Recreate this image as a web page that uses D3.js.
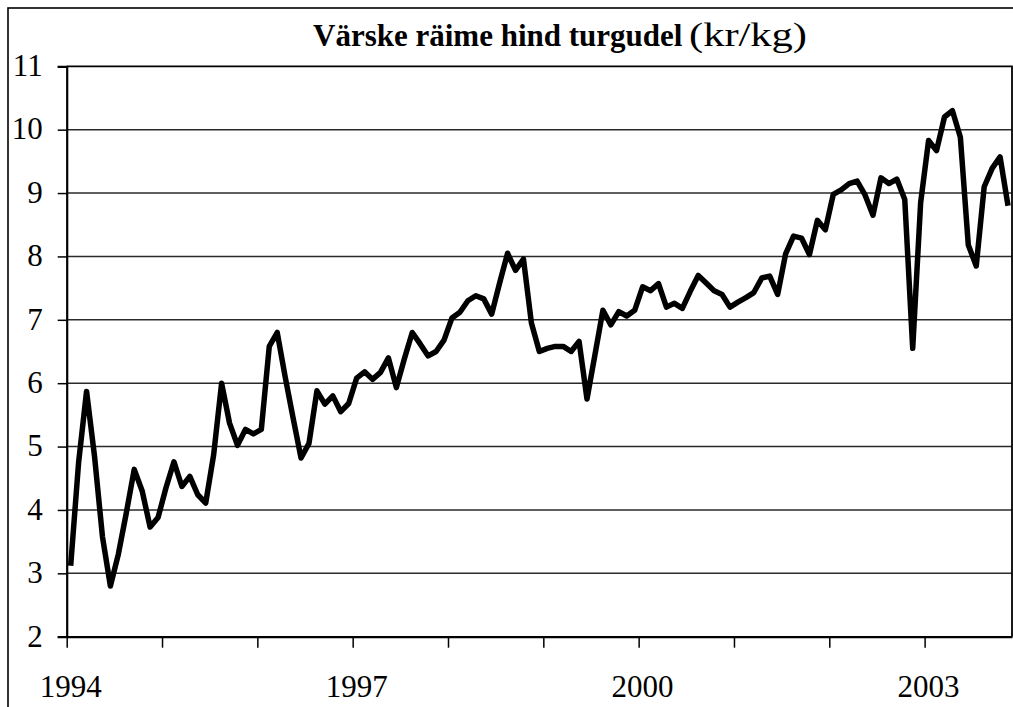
<!DOCTYPE html>
<html>
<head>
<meta charset="utf-8">
<script src="https://cdn.jsdelivr.net/npm/d3@7"></script>
<style>
  html, body { margin: 0; padding: 0; background: #fff; }
  svg { display: block; font-family: "Liberation Serif", "Times New Roman", serif; }
</style>
</head>
<body>
<div id="chart"></div>
<script>
// monthly price, Jan 1994 .. Nov 2003 (kr/kg)
const startYear = 1994;
const prices = [
  3.12, 4.75, 5.87, 4.85, 3.58, 2.80, 3.30, 3.95, 4.64, 4.30, 3.73, 3.88,
  4.35, 4.76, 4.37, 4.53, 4.24, 4.11, 4.87, 6.00, 5.37, 5.02, 5.27, 5.20,
  5.27, 6.58, 6.80, 6.10, 5.45, 4.82, 5.05, 5.88, 5.67, 5.80, 5.55, 5.68,
  6.08, 6.18, 6.06, 6.17, 6.40, 5.93, 6.38, 6.80, 6.62, 6.43, 6.50, 6.68,
  7.03, 7.12, 7.30, 7.38, 7.33, 7.09, 7.58, 8.05, 7.78, 7.96, 6.95, 6.50,
  6.55, 6.58, 6.58, 6.50, 6.66, 5.75, 6.45, 7.15, 6.92, 7.13, 7.06, 7.15,
  7.52, 7.46, 7.57, 7.20, 7.26, 7.18, 7.45, 7.70, 7.58, 7.46, 7.40, 7.20,
  7.28, 7.35, 7.43, 7.66, 7.69, 7.40, 8.04, 8.32, 8.29, 8.03, 8.57, 8.42,
  8.98, 9.05, 9.15, 9.19, 8.97, 8.65, 9.24, 9.15, 9.22, 8.90, 6.55, 8.85,
  9.83, 9.67, 10.20, 10.30, 9.88, 8.18, 7.85, 9.10, 9.39, 9.57, 8.80
];
const yTicks = [2, 3, 4, 5, 6, 7, 8, 9, 10, 11];
const yearLabels = ["1994", "1997", "2000", "2003"];
const titleMain = "Värske räime hind turgudel";
const titleUnit = "(kr/kg)";

const width = 1013;
const height = 707;
const plot = { left: 66.7, top: 66.3, right: 1012, bottom: 636.7 };

const svg = d3.select("#chart")
  .append("svg")
  .attr("width", width)
  .attr("height", height);

svg.append("rect")
  .attr("width", width).attr("height", height)
  .attr("fill", "#fff");

// outer chart border (right/bottom fall outside the picture)
svg.append("rect")
  .attr("x", 8).attr("y", 8)
  .attr("width", 1030).attr("height", 730)
  .attr("fill", "none")
  .attr("stroke", "#000")
  .attr("stroke-width", 1.6);

// month categories
const months = prices.map((d, i) => i);
const x = d3.scaleBand()
  .domain(months)
  .range([plot.left, plot.right])
  .padding(0);

// category boundaries, used for tick marks
const xEdge = d3.scaleLinear()
  .domain([0, months.length])
  .range([plot.left, plot.right]);

const y = d3.scaleLinear()
  .domain([2, 11])
  .range([plot.bottom, plot.top]);

// gridlines
svg.append("g")
  .selectAll("line")
  .data(yTicks.filter(d => d > 2 && d < 11))
  .join("line")
  .attr("x1", plot.left).attr("x2", plot.right)
  .attr("y1", d => y(d)).attr("y2", d => y(d))
  .attr("stroke", "#2a2a2a")
  .attr("stroke-width", 1.5);

// plot area top/right border
svg.append("path")
  .attr("d", `M${plot.left},${plot.top}H${plot.right}V${plot.bottom}`)
  .attr("fill", "none")
  .attr("stroke", "#000")
  .attr("stroke-width", 1.8);

// y axis
const yAxis = svg.append("g")
  .attr("transform", `translate(${plot.left},0)`)
  .call(d3.axisLeft(y).tickValues(yTicks).tickSize(9).tickPadding(15).tickFormat(d3.format("d")));
yAxis.select(".domain").attr("stroke", "#000").attr("stroke-width", 2.2);
yAxis.selectAll(".tick line").attr("stroke", "#000").attr("stroke-width", 1.5);
yAxis.selectAll(".tick text")
  .attr("font-family", "Liberation Serif, serif")
  .attr("font-size", 31)
  .attr("fill", "#000")
  .attr("dy", "0.3em");

// x axis tick marks at every 12th category boundary
const xAxis = svg.append("g")
  .attr("transform", `translate(0,${plot.bottom})`)
  .call(d3.axisBottom(xEdge)
    .tickValues(d3.range(0, months.length, 12))
    .tickSize(11)
    .tickSizeOuter(0)
    .tickFormat(""));
xAxis.select(".domain").attr("stroke", "#000").attr("stroke-width", 2.2);
xAxis.selectAll(".tick line").attr("stroke", "#000").attr("stroke-width", 1.5);

// year labels centred on their January category
const labelAxis = svg.append("g")
  .attr("transform", `translate(0,${plot.bottom})`)
  .call(d3.axisBottom(x)
    .tickValues(yearLabels.map(l => (+l - startYear) * 12))
    .tickSize(0)
    .tickPadding(38)
    .tickFormat(i => yearLabels.find(l => (+l - startYear) * 12 === i)));
labelAxis.select(".domain").remove();
labelAxis.selectAll(".tick text")
  .attr("font-family", "Liberation Serif, serif")
  .attr("font-size", 31)
  .attr("fill", "#000");

// price line
const line = d3.line()
  .x((d, i) => x(i) + x.bandwidth() / 2)
  .y(d => y(d));

svg.append("path")
  .datum(prices)
  .attr("d", line)
  .attr("fill", "none")
  .attr("stroke", "#000")
  .attr("stroke-width", 5.5)
  .attr("stroke-linejoin", "round");

// title: bold part plus unit in regular weight
svg.append("text")
  .attr("x", 313)
  .attr("y", 46)
  .attr("font-weight", "bold")
  .attr("font-size", 31)
  .attr("fill", "#000")
  .text(titleMain);
svg.append("text")
  .attr("x", 689)
  .attr("y", 46)
  .attr("font-size", 33)
  .attr("textLength", 118)
  .attr("lengthAdjust", "spacingAndGlyphs")
  .attr("fill", "#000")
  .text(titleUnit);
</script>
</body>
</html>
